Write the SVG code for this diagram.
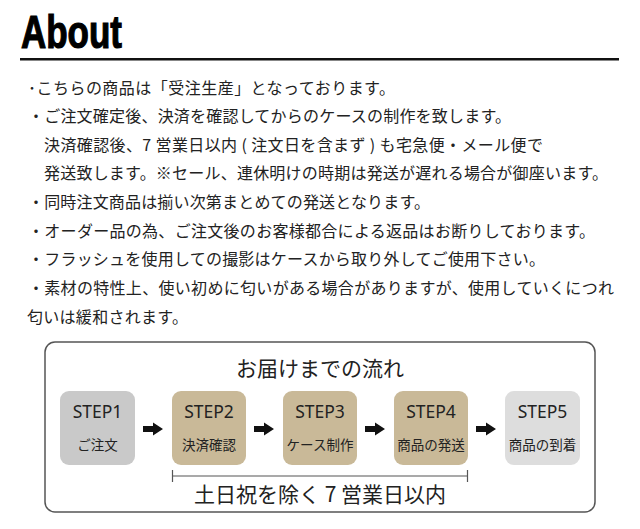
<svg xmlns="http://www.w3.org/2000/svg" width="640" height="529" viewBox="0 0 640 529">
<defs>
<style>
.t{font-family:"Noto Sans CJK JP","Noto Sans",sans-serif;font-size:16px;fill:#222}
.step{font-family:"Noto Sans","Open Sans",sans-serif;font-size:17.5px;fill:#222;text-anchor:middle}
.sub{font-family:"Noto Sans CJK JP",sans-serif;font-size:13.5px;fill:#222;text-anchor:middle}
.big{font-family:"Noto Sans CJK JP",sans-serif;font-size:21px;fill:#222;text-anchor:middle}
.box{stroke:none}
.gray{fill:#c9c9c9}
.tan{fill:#c9b998}
.light{fill:#dddddd}
</style>
<path id="arr" d="M0,-3 H10 V-6.5 L20,0 L10,6.5 V3 H0 Z" fill="#111"/>
</defs>
<rect width="640" height="529" fill="#fff"/>
<g id="header">
<text x="21" y="48" font-family="'Liberation Sans Narrow','Liberation Sans',sans-serif" font-weight="bold" font-size="46" textLength="101" lengthAdjust="spacingAndGlyphs" fill="#000" stroke="#000" stroke-width="1.2">About</text>
<rect x="20" y="58" width="599" height="2.5" fill="#111"/>
</g>
<g id="notes">
<text class="t" x="28" y="94" textLength="367">･こちらの商品は「受注生産」となっております。</text>
<text class="t" x="28" y="122" textLength="483">・ご注文確定後、決済を確認してからのケースの制作を致します。</text>
<text class="t" x="44" y="151" textLength="499">決済確認後、7 営業日以内 ( 注文日を含まず ) も宅急便・メール便で</text>
<text class="t" x="44" y="179" textLength="564">発送致します。※セール、連休明けの時期は発送が遅れる場合が御座います。</text>
<text class="t" x="28" y="208" textLength="402">・同時注文商品は揃い次第まとめての発送となります。</text>
<text class="t" x="28" y="237" textLength="567">・オーダー品の為、ご注文後のお客様都合による返品はお断りしております。</text>
<text class="t" x="28" y="265" textLength="517">・フラッシュを使用しての撮影はケースから取り外してご使用下さい。</text>
<text class="t" x="28" y="294" textLength="586">・素材の特性上、使い初めに匂いがある場合がありますが、使用していくにつれ</text>
<text class="t" x="27" y="323" textLength="161">匂いは緩和されます。</text>
</g>
<g id="flow-frame">
<rect x="45" y="342" width="550" height="170" rx="10" fill="#fff" stroke="#555" stroke-width="1.5"/>
<text class="big" x="320" y="376">お届けまでの流れ</text>
</g>
<g id="step1">
<rect class="box gray" x="60" y="391" width="75" height="74" rx="9"/>
<text class="step" x="97.5" y="418">STEP1</text>
<text class="sub" x="97.5" y="450">ご注文</text>
</g>
<g id="step2">
<rect class="box tan" x="172" y="391" width="74" height="74" rx="9"/>
<text class="step" x="209" y="418">STEP2</text>
<text class="sub" x="209" y="450">決済確認</text>
</g>
<g id="step3">
<rect class="box tan" x="283" y="391" width="74" height="74" rx="9"/>
<text class="step" x="320" y="418">STEP3</text>
<text class="sub" x="320" y="450">ケース制作</text>
</g>
<g id="step4">
<rect class="box tan" x="394" y="391" width="74" height="74" rx="9"/>
<text class="step" x="431" y="418">STEP4</text>
<text class="sub" x="431" y="450">商品の発送</text>
</g>
<g id="step5">
<rect class="box light" x="505" y="391" width="75" height="74" rx="9"/>
<text class="step" x="542.5" y="418">STEP5</text>
<text class="sub" x="542.5" y="450">商品の到着</text>
</g>
<g id="connectors">
<use href="#arr" x="143" y="429"/>
<use href="#arr" x="254" y="429"/>
<use href="#arr" x="365" y="429"/>
<use href="#arr" x="476" y="429"/>
</g>
<g id="period">
<path d="M172.5,470 V482 M172.5,476 H467.5 M467.5,470 V482" fill="none" stroke="#555" stroke-width="1.2"/>
<text class="big" x="320" y="502" font-size="20.5">土日祝を除く 7 営業日以内</text>
</g>
</svg>
